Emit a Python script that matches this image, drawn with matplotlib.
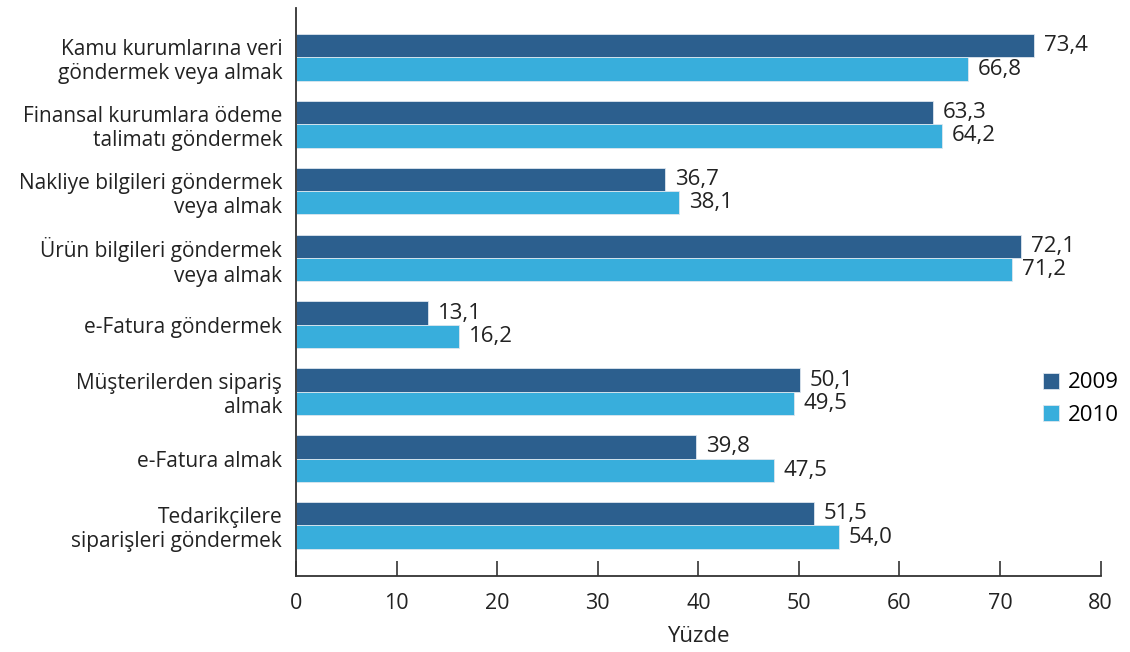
import matplotlib
matplotlib.use("Agg")
import matplotlib.pyplot as plt
import numpy as np

plt.rcParams['font.family'] = ['Open Sans', 'DejaVu Sans']

categories = [
    "Kamu kurumlarına veri\ngöndermek veya almak",
    "Finansal kurumlara ödeme\ntalimatı göndermek",
    "Nakliye bilgileri göndermek\nveya almak",
    "Ürün bilgileri göndermek\nveya almak",
    "e-Fatura göndermek",
    "Müşterilerden sipariş\nalmak",
    "e-Fatura almak",
    "Tedarikçilere\nsiparişleri göndermek",
]
values_2009 = [73.4, 63.3, 36.7, 72.1, 13.1, 50.1, 39.8, 51.5]
values_2010 = [66.8, 64.2, 38.1, 71.2, 16.2, 49.5, 47.5, 54.0]
years = ["2009", "2010"]
xticks = [0, 10, 20, 30, 40, 50, 60, 70, 80]

c2009 = '#2c5f8e'
c2010 = '#38aedc'

fig = plt.figure(figsize=(11.3, 6.52), dpi=100)
ax = fig.add_axes([0.262, 0.1166, 0.712, 0.8714])

y = np.arange(len(categories))
h = 0.35
b1 = ax.barh(y - h / 2, values_2009, height=h, color=c2009, edgecolor='#dde6ee', linewidth=0.6, label=years[0])
b2 = ax.barh(y + h / 2, values_2010, height=h, color=c2010, edgecolor='#dde6ee', linewidth=0.6, label=years[1])

fmt = lambda v: f"{v:.1f}".replace('.', ',')
for bars, vals in ((b1, values_2009), (b2, values_2010)):
    ax.bar_label(bars, labels=[fmt(v) for v in vals], padding=7, fontsize=16, color='#222222')

ax.set_ylim(7.755, -0.74)
ax.set_xlim(0, 80)
ax.set_yticks(y)
ax.set_yticklabels(categories, fontsize=15, color='#222222', linespacing=1.2)
ax.tick_params(axis='y', length=0, pad=10)
ax.set_xticks(xticks)
ax.set_xticklabels([str(t) for t in xticks], fontsize=15.5, color='#222222')
ax.tick_params(axis='x', direction='in', length=11, width=1.2, color='#333333', pad=12)
ax.set_xlabel("Yüzde", fontsize=16, color='#222222', labelpad=9)

for s in ['top', 'right']:
    ax.spines[s].set_visible(False)
for s in ['left', 'bottom']:
    ax.spines[s].set_color('#333333')
    ax.spines[s].set_linewidth(1.3)

leg = fig.legend(loc='center left', bbox_to_anchor=(0.905, 0.388), frameon=False,
                 fontsize=16, handlelength=0.75, handleheight=0.75, handletextpad=0.4,
                 labelspacing=0.5)

fig.savefig("out.png", dpi=100)
